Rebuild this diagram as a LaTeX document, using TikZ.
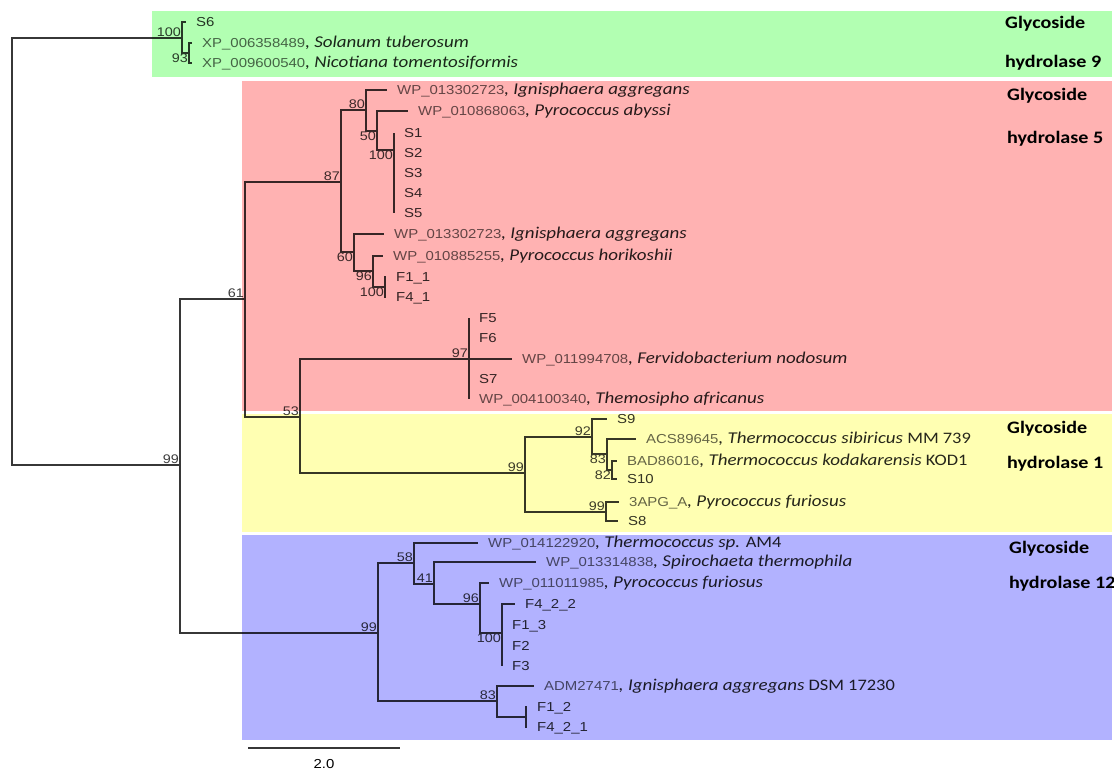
\documentclass[tikz,border=0pt]{standalone}
\usepackage{fontspec}
\setmainfont{Liberation Sans}[FakeStretch=1.15]
\newfontfamily\calfont{Carlito}[FakeStretch=1.15]
\usetikzlibrary{positioning}
\definecolor{ghnine}{RGB}{178,255,178}
\definecolor{ghfive}{RGB}{255,178,178}
\definecolor{ghone}{RGB}{255,255,178}
\definecolor{ghtwelve}{RGB}{178,178,255}
\definecolor{branchgray}{RGB}{55,55,55}
\definecolor{idgray}{RGB}{100,100,100}
\definecolor{bootgray}{RGB}{60,60,60}
\newcommand{\species}[1]{{\color{black!85}\calfont\itshape\fontsize{16.5}{18}\selectfont #1}}
\newcommand{\strain}[1]{{\color{black!85}\calfont\fontsize{16}{18}\selectfont #1}}
\newcommand{\seq}[1]{{\color{black!80}#1}}

\begin{document}
\begin{tikzpicture}[x=1pt, y=-1pt,
  branch/.style={draw=branchgray, line width=1.2pt},
  leaf/.style={anchor=base west, inner sep=0pt, xshift=10pt, yshift=-4.6pt,
    font=\fontsize{13}{15}\selectfont, text=idgray},
  boot/.style={inner sep=1pt, font=\fontsize{12.5}{14}\selectfont, text=bootgray},
  bootup/.style={boot, anchor=south east},
  bootdown/.style={boot, anchor=north east},
  family/.style={anchor=base west, inner sep=0pt, yshift=-5.5pt,
    font=\calfont\bfseries\fontsize{17.5}{20}\selectfont}]
  \useasboundingbox (0,0) rectangle (1114,773);

  % tree nodes
  \coordinate (root)  at (12,250);
  \coordinate (g100)  at (182,38);
  \coordinate (g93)   at (189,53);
  \coordinate (n99)   at (180,465);
  \coordinate (n61)   at (245,299);
  \coordinate (n87)   at (341,182);
  \coordinate (n80)   at (366,110);
  \coordinate (n50)   at (377,131);
  \coordinate (n100a) at (394,150);
  \coordinate (n60)   at (354,252);
  \coordinate (n96)   at (373,271);
  \coordinate (n100b) at (385,287);
  \coordinate (n53)   at (300,417);
  \coordinate (n97)   at (469,359);
  \coordinate (y99)   at (525,473);
  \coordinate (y92)   at (592,437);
  \coordinate (y83)   at (607,454);
  \coordinate (y82)   at (612,470);
  \coordinate (y99b)  at (606,512);
  \coordinate (b99)   at (378,633);
  \coordinate (b58)   at (414,563);
  \coordinate (b41)   at (434,584);
  \coordinate (b96)   at (480,604);
  \coordinate (b100)  at (502,633);
  \coordinate (b83)   at (497,701);
  \coordinate (b100c) at (526,717);

  % tips
  \coordinate (tS6)   at (186,22);
  \coordinate (tXPa)  at (192,43);
  \coordinate (tXPb)  at (192,63);
  \coordinate (tWPa)  at (387,90);
  \coordinate (tWPb)  at (408,111);
  \coordinate (tS1)   at (394,133);
  \coordinate (tS2)   at (394,153);
  \coordinate (tS3)   at (394,173);
  \coordinate (tS4)   at (394,193);
  \coordinate (tS5)   at (394,213);
  \coordinate (tWPc)  at (384,234);
  \coordinate (tWPd)  at (383,256);
  \coordinate (tF11)  at (386,277);
  \coordinate (tF41)  at (386,297);
  \coordinate (tF5)   at (469,318);
  \coordinate (tF6)   at (469,338);
  \coordinate (tWPe)  at (512,359);
  \coordinate (tS7)   at (469,379);
  \coordinate (tWPf)  at (469,399);
  \coordinate (tS9)   at (607,419);
  \coordinate (tACS)  at (636,439);
  \coordinate (tBAD)  at (617,461);
  \coordinate (tS10)  at (617,479);
  \coordinate (tAPG)  at (619,502);
  \coordinate (tS8)   at (618,521);
  \coordinate (tWPg)  at (478,543);
  \coordinate (tWPh)  at (536,562);
  \coordinate (tWPi)  at (489,583);
  \coordinate (tF422) at (515,604);
  \coordinate (tF13)  at (502,625);
  \coordinate (tF2)   at (502,646);
  \coordinate (tF3)   at (502,666);
  \coordinate (tADM)  at (534,686);
  \coordinate (tF12)  at (527,707);
  \coordinate (tF421) at (527,727);

  % branches
  \draw[branch] (root) |- (g100)  (root) |- (n99)
    (g100) |- (tS6)  (g100) |- (g93)  (g93) |- (tXPa)  (g93) |- (tXPb)
    (n99) |- (n61)  (n99) |- (b99)
    (n61) |- (n87)  (n61) |- (n53)
    (n87) |- (n80)  (n87) |- (n60)
    (n80) |- (tWPa)  (n80) |- (n50)
    (n50) |- (tWPb)  (n50) |- (n100a)
    (n100a) |- (tS1)  (n100a) |- (tS2)  (n100a) |- (tS3)  (n100a) |- (tS4)  (n100a) |- (tS5)
    (n60) |- (tWPc)  (n60) |- (n96)
    (n96) |- (tWPd)  (n96) |- (n100b)
    (n100b) |- (tF11)  (n100b) |- (tF41)
    (n53) |- (n97)  (n53) |- (y99)
    (n97) |- (tF5)  (n97) |- (tF6)  (n97) |- (tWPe)  (n97) |- (tS7)  (n97) |- (tWPf)
    (y99) |- (y92)  (y99) |- (y99b)
    (y92) |- (tS9)  (y92) |- (y83)
    (y83) |- (tACS)  (y83) |- (y82)
    (y82) |- (tBAD)  (y82) |- (tS10)
    (y99b) |- (tAPG)  (y99b) |- (tS8)
    (b99) |- (b58)  (b99) |- (b83)
    (b58) |- (tWPg)  (b58) |- (b41)
    (b41) |- (tWPh)  (b41) |- (b96)
    (b96) |- (tWPi)  (b96) |- (b100)
    (b100) |- (tF422)  (b100) |- (tF13)  (b100) |- (tF2)  (b100) |- (tF3)
    (b83) |- (tADM)  (b83) |- (b100c)
    (b100c) |- (tF12)  (b100c) |- (tF421);

  % leaf names
  \node[leaf] (S6)    at (tS6)   {\seq{S6}};
  \node[leaf] (XPa)   at (tXPa)  {XP\_006358489\species{, Solanum tuberosum}};
  \node[leaf] (XPb)   at (tXPb)  {XP\_009600540\species{, Nicotiana tomentosiformis}};
  \node[leaf] (WPa)   at (tWPa)  {WP\_013302723\species{, Ignisphaera aggregans}};
  \node[leaf] (WPb)   at (tWPb)  {WP\_010868063\species{, Pyrococcus abyssi}};
  \node[leaf] (S1)    at (tS1)   {\seq{S1}};
  \node[leaf] (S2)    at (tS2)   {\seq{S2}};
  \node[leaf] (S3)    at (tS3)   {\seq{S3}};
  \node[leaf] (S4)    at (tS4)   {\seq{S4}};
  \node[leaf] (S5)    at (tS5)   {\seq{S5}};
  \node[leaf] (WPc)   at (tWPc)  {WP\_013302723\species{, Ignisphaera aggregans}};
  \node[leaf] (WPd)   at (tWPd)  {WP\_010885255\species{, Pyrococcus horikoshii}};
  \node[leaf] (F11)   at (tF11)  {\seq{F1\_1}};
  \node[leaf] (F41)   at (tF41)  {\seq{F4\_1}};
  \node[leaf] (F5)    at (tF5)   {\seq{F5}};
  \node[leaf] (F6)    at (tF6)   {\seq{F6}};
  \node[leaf] (WPe)   at (tWPe)  {WP\_011994708\species{, Fervidobacterium nodosum}};
  \node[leaf] (S7)    at (tS7)   {\seq{S7}};
  \node[leaf] (WPf)   at (tWPf)  {WP\_004100340\species{, Themosipho africanus}};
  \node[leaf] (S9)    at (tS9)   {\seq{S9}};
  \node[leaf] (ACS)   at (tACS)  {ACS89645\species{, Thermococcus sibiricus} \strain{MM 739}};
  \node[leaf] (BAD)   at (tBAD)  {BAD86016\species{, Thermococcus kodakarensis} \strain{KOD1}};
  \node[leaf] (S10)   at (tS10)  {\seq{S10}};
  \node[leaf] (APG)   at (tAPG)  {3APG\_A\species{, Pyrococcus furiosus}};
  \node[leaf] (S8)    at (tS8)   {\seq{S8}};
  \node[leaf] (WPg)   at (tWPg)  {WP\_014122920\species{, Thermococcus sp.} \strain{AM4}};
  \node[leaf] (WPh)   at (tWPh)  {WP\_013314838\species{, Spirochaeta thermophila}};
  \node[leaf] (WPi)   at (tWPi)  {WP\_011011985\species{, Pyrococcus furiosus}};
  \node[leaf] (F422)  at (tF422) {\seq{F4\_2\_2}};
  \node[leaf] (F13)   at (tF13)  {\seq{F1\_3}};
  \node[leaf] (F2)    at (tF2)   {\seq{F2}};
  \node[leaf] (F3)    at (tF3)   {\seq{F3}};
  \node[leaf] (ADM)   at (tADM)  {ADM27471\species{, Ignisphaera aggregans} \strain{DSM 17230}};
  \node[leaf] (F12)   at (tF12)  {\seq{F1\_2}};
  \node[leaf] (F421)  at (tF421) {\seq{F4\_2\_1}};

  % bootstrap values
  \node[bootup]   (l1)  at (g100)  {100};
  \node[bootdown] (l2)  at (g93)   {93};
  \node[bootup]   (l3)  at (n99)   {99};
  \node[bootup]   (l4)  at (n61)   {61};
  \node[bootup]   (l5)  at (n87)   {87};
  \node[bootup]   (l6)  at (n80)   {80};
  \node[bootdown] (l7)  at (n50)   {50};
  \node[bootdown] (l8)  at (n100a) {100};
  \node[bootdown] (l9)  at (n60)   {60};
  \node[bootdown] (l10) at (n96)   {96};
  \node[bootdown] (l11) at (n100b) {100};
  \node[bootup]   (l12) at (n53)   {53};
  \node[bootup]   (l13) at (n97)   {97};
  \node[bootup]   (l14) at (y99)   {99};
  \node[bootup]   (l15) at (y92)   {92};
  \node[bootdown] (l16) at (y83)   {83};
  \node[bootdown] (l17) at (y82)   {82};
  \node[bootup]   (l18) at (y99b)  {99};
  \node[bootup]   (l19) at (b99)   {99};
  \node[bootup]   (l20) at (b58)   {58};
  \node[bootup]   (l21) at (b41)   {41};
  \node[bootup]   (l22) at (b96)   {96};
  \node[bootdown] (l23) at (b100)  {100};
  \node[bootup]   (l24) at (b83)   {83};

  % family boxes
  \begin{scope}[blend mode=multiply]
    \fill[ghnine]   (152,11)  rectangle (1112,77);
    \fill[ghfive]   (242,81)  rectangle (1112,411);
    \fill[ghone]    (242,414) rectangle (1112,532);
    \fill[ghtwelve] (242,535) rectangle (1112,740);
  \end{scope}
  \node[family] (gh9a)  at (1005,23)  {Glycoside};
  \node[family] (gh9b)  at (1005,62)  {hydrolase 9};
  \node[family] (gh5a)  at (1007,95)  {Glycoside};
  \node[family] (gh5b)  at (1007,138) {hydrolase 5};
  \node[family] (gh1a)  at (1007,428) {Glycoside};
  \node[family] (gh1b)  at (1007,463) {hydrolase 1};
  \node[family] (gh12a) at (1009,548) {Glycoside};
  \node[family] (gh12b) at (1009,583) {hydrolase 12};

  % scale bar
  \coordinate (barL) at (248,748);
  \coordinate (barR) at (400,748);
  \draw[draw=branchgray, line width=1.4pt] (barL) -- (barR)
    node[midway, below=7pt, font=\fontsize{13}{15}\selectfont] (barlab) {2.0};
\end{tikzpicture}
\end{document}
